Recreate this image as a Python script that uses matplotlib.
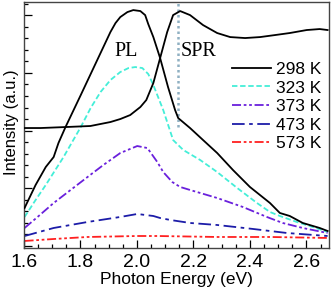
import matplotlib
matplotlib.use("Agg")
import matplotlib.pyplot as plt

plt.rcParams['font.family'] = ['Liberation Sans', 'DejaVu Sans']

# ---- data ----
pl298_x = [1.602, 1.641, 1.677, 1.705, 1.722, 1.747, 1.801, 1.836, 1.871, 1.906, 1.924, 1.941,
           1.966, 1.987, 2.012, 2.029, 2.040, 2.058, 2.082, 2.110, 2.135, 2.146, 2.188, 2.234,
           2.284, 2.340, 2.400, 2.471, 2.506, 2.541, 2.587, 2.647, 2.675]
pl298_y = [0.659, 1.057, 1.369, 1.542, 1.785, 2.062, 2.617, 2.981, 3.345, 3.709, 3.865, 3.969,
           4.055, 4.090, 4.073, 4.003, 3.847, 3.622, 3.258, 2.756, 2.357, 2.218, 2.045, 1.837,
           1.612, 1.317, 1.023, 0.745, 0.572, 0.520, 0.399, 0.312, 0.260]

spr_x = [1.602, 1.659, 1.747, 1.835, 1.906, 1.941, 1.976, 2.012, 2.033, 2.058, 2.082, 2.107,
         2.128, 2.153, 2.188, 2.234, 2.284, 2.330, 2.383, 2.436, 2.489, 2.541, 2.601, 2.647, 2.675]
spr_y = [2.045, 2.045, 2.062, 2.080, 2.149, 2.201, 2.270, 2.409, 2.530, 2.825, 3.258, 3.709,
         4.003, 4.073, 4.003, 3.830, 3.692, 3.622, 3.605, 3.622, 3.657, 3.692, 3.744, 3.761, 3.744]

pl323_x = [1.602, 1.641, 1.677, 1.740, 1.801, 1.836, 1.871, 1.906, 1.941, 1.970, 1.994, 2.019,
           2.040, 2.058, 2.093, 2.114, 2.128, 2.164, 2.224, 2.284, 2.355, 2.425, 2.471, 2.506,
           2.566, 2.623, 2.675]
pl323_y = [0.503, 0.797, 1.057, 1.542, 2.062, 2.392, 2.669, 2.877, 3.016, 3.085, 3.102, 3.085,
           2.981, 2.790, 2.357, 2.045, 1.837, 1.664, 1.490, 1.282, 1.005, 0.745, 0.589, 0.520,
           0.416, 0.329, 0.243]

pl373_x = [1.602, 1.648, 1.705, 1.765, 1.825, 1.881, 1.941, 2.001, 2.037, 2.072, 2.093, 2.125,
           2.153, 2.188, 2.284, 2.375, 2.460, 2.516, 2.587, 2.675]
pl373_y = [0.312, 0.503, 0.745, 0.971, 1.196, 1.404, 1.612, 1.733, 1.698, 1.456, 1.282, 1.109,
           1.023, 0.971, 0.832, 0.676, 0.503, 0.399, 0.312, 0.225]

pl473_x = [1.602, 1.705, 1.825, 1.941, 2.001, 2.058, 2.082, 2.118, 2.188, 2.284, 2.411, 2.531, 2.675]
pl473_y = [0.173, 0.312, 0.416, 0.503, 0.555, 0.520, 0.485, 0.451, 0.399, 0.364, 0.295, 0.225, 0.173]

pl573_x = [1.602, 1.705, 1.825, 2.001, 2.072, 2.284, 2.471, 2.675]
pl573_y = [0.087, 0.121, 0.156, 0.173, 0.173, 0.156, 0.156, 0.139]

labels = ['298 K', '323 K', '373 K', '473 K', '573 K']
spr_energy = 2.146
spr_line_top = 2.062
xticks = [1.6, 1.8, 2.0, 2.2, 2.4, 2.6]

# ---- figure ----
fig = plt.figure(figsize=(3.31, 2.88), dpi=100)
ax = fig.add_axes([24/331, 40/288, 305/331, 246/288])

ax.plot([spr_energy, spr_energy], [spr_line_top, 4.3], color='#8fb0c2', lw=1.8,
        linestyle=(0, (1, 1.2)), zorder=1)

ax.plot(pl298_x, pl298_y, color='black', lw=1.3, label=labels[0], zorder=3)
ax.plot(spr_x, spr_y, color='black', lw=1.3, zorder=3)
ax.plot(pl323_x, pl323_y, color='#44eed8', lw=1.3, linestyle=(0, (3, 1.5)), label=labels[1])
ax.plot(pl373_x, pl373_y, color='#6a20dc', lw=1.3, linestyle=(0, (5, 1.5, 1.5, 1.5, 1.5, 1.5)),
        label=labels[2])
ax.plot(pl473_x, pl473_y, color='#1c1ca8', lw=1.3, linestyle=(0, (7, 2.5, 2, 2.5)), label=labels[3])
ax.plot(pl573_x, pl573_y, color='#ff2020', lw=1.3, linestyle=(0, (5, 1.5, 1.5, 1.5, 1.5, 1.5)),
        label=labels[4])

ax.set_xlim(1.6, 2.68)
ax.set_ylim(-0.035, 4.23)
ax.set_xticks(xticks)
ax.set_xticklabels([f'{t:.1f}' for t in xticks])
ax.set_xticks([1.6 + 0.05 * i for i in range(22)], minor=True)
ax.set_yticks([0, 1, 2, 3, 4])
ax.set_yticks([0.2 * i for i in range(22)], minor=True)
ax.set_yticklabels([])
ax.tick_params(which='both', direction='in', top=False, right=False)
ax.tick_params(which='major', length=6, width=0.9, labelsize=14, pad=4)
ax.tick_params(which='minor', length=3, width=0.9)
for s in ax.spines.values():
    s.set_color('#444444')
    s.set_linewidth(1.0)

ax.set_xlabel('Photon Energy (eV)', fontsize=12.5, labelpad=1)
ax.set_ylabel('Intensity (a.u.)', fontsize=12, labelpad=2)
ax.yaxis.set_label_coords(-0.016, 0.51)

ax.text(1.96, 3.37, 'PL', family=['Liberation Serif', 'DejaVu Serif'], fontsize=14.5,
        ha='center', va='center')
ax.text(2.217, 3.37, 'SPR', family=['Liberation Serif', 'DejaVu Serif'], fontsize=14.5,
        ha='center', va='center')

ax.legend(loc='upper left', bbox_to_anchor=(0.682, 0.757), frameon=False, fontsize=12.5,
          handlelength=2.25, handletextpad=0.3, labelspacing=0.2, borderpad=0, borderaxespad=0)

fig.savefig('out.png', dpi=100)
